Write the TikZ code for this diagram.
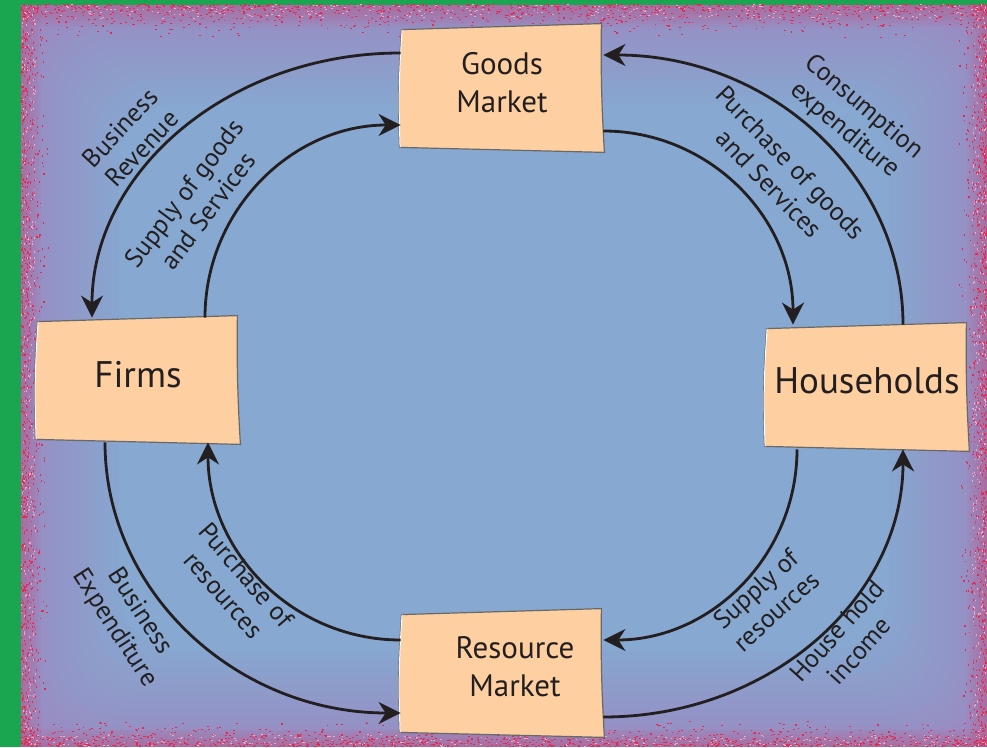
\documentclass[tikz,border=0pt]{standalone}
\usepackage{fontspec}
\setmainfont{PT Sans}
\usetikzlibrary{arrows.meta,backgrounds}

\definecolor{bggreen}{RGB}{26,166,80}
\definecolor{edgepurple}{RGB}{152,140,194}
\definecolor{midblue}{RGB}{135,168,208}
\definecolor{speckred}{RGB}{226,44,86}
\definecolor{speckpale}{RGB}{236,170,200}
\definecolor{cardpeach}{RGB}{253,207,161}
\definecolor{cardline}{RGB}{105,105,105}
\definecolor{inkdark}{RGB}{35,31,32}

% paper card behind a market / sector node
\newcommand\cardback[1]{%
	\filldraw[cardface] ([shift={(1,-4)}]#1.north west) -- ([shift={(-2,2)}]#1.north east)
		to[bend right=2] ([shift={(1,-2)}]#1.south east) -- ([shift={(-1,3)}]#1.south west)
		to[bend left=3] ([shift={(1,-4)}]#1.north west) -- cycle;
	\draw[white, line width=1pt] ([shift={(-0.5,3)}]#1.south west)
		to[bend left=3] ([shift={(1.5,-4)}]#1.north west);
}

\begin{document}
\begin{tikzpicture}[
	>={Stealth[length=22pt,width=22pt,inset=7pt]},
	line width=2.8pt,
	x=1pt,y=1pt,
	font=\fontsize{26}{30}\selectfont,
	card/.style={minimum width=200, minimum height=122, inner sep=0pt, text depth=12pt, align=center, text=inkdark},
	cardface/.style={fill=cardpeach, draw=cardline, line width=1.2pt},
	flow/.style={->, draw=inkdark},
	lbl/.style={align=center, text=inkdark, inner sep=0pt}
	]
	\useasboundingbox (0,0) rectangle (987,747);

% begin background
\begin{scope}[on background layer]
\fill[bggreen] (0,0) rectangle (987,747);
\fill[edgepurple] (21,0) rectangle (987,742);
\foreach \k in {0,...,11}{
	\pgfmathtruncatemacro\p{(\k+1)*100/12}
	\fill[midblue!\p!edgepurple, rounded corners=60] (31+\k*8, 8+\k*8) rectangle (977-\k*8, 732-\k*8);
}
% red haze along the frame
\foreach \j in {1,...,7}{
	\fill[speckred, opacity=0.045] (21,742) rectangle (987,742-\j*3.2);
	\fill[speckred, opacity=0.045] (21,0) rectangle (987,\j*2.6);
	\fill[speckred, opacity=0.045] (21,0) rectangle (21+\j*2.8,742);
	\fill[speckred, opacity=0.045] (987,0) rectangle (987-\j*2.8,742);
}
% red speckles along the frame
\pgfmathsetseed{42}
\foreach \i in {1,...,1100}{
	\pgfmathsetmacro\sx{21+rnd*966}
	\pgfmathsetmacro\sd{rnd*rnd*34}
	\fill[speckred] (\sx,742-\sd) rectangle ++(1.8,1.1);
	\pgfmathsetmacro\sx{21+rnd*966}
	\pgfmathsetmacro\sd{rnd*rnd*26}
	\fill[speckred] (\sx,\sd) rectangle ++(1.8,1.1);
}
\foreach \i in {1,...,850}{
	\pgfmathsetmacro\sy{rnd*742}
	\pgfmathsetmacro\sd{rnd*rnd*28}
	\fill[speckred] (21+\sd,\sy) rectangle ++(1.1,1.8);
	\pgfmathsetmacro\sy{rnd*742}
	\pgfmathsetmacro\sd{rnd*rnd*28}
	\fill[speckred] (987-\sd,\sy) rectangle ++(-1.1,1.8);
}
\foreach \i in {1,...,300}{
	\pgfmathsetmacro\sx{21+rnd*966}
	\pgfmathsetmacro\sd{rnd*14}
	\fill[speckpale] (\sx,742-\sd) rectangle ++(1.6,1);
	\pgfmathsetmacro\sy{rnd*742}
	\pgfmathsetmacro\sd{rnd*14}
	\fill[speckpale] (21+\sd,\sy) rectangle ++(1,1.6);
	\pgfmathsetmacro\sy{rnd*742}
	\pgfmathsetmacro\sd{rnd*14}
	\fill[speckpale] (987-\sd,\sy) rectangle ++(-1,1.6);
	\pgfmathsetmacro\sx{21+rnd*966}
	\pgfmathsetmacro\sd{rnd*12}
	\fill[speckpale] (\sx,\sd) rectangle ++(1.6,1);
}
\end{scope}
% end background

			\node[card, font=\fontsize{31}{38}\selectfont] (goods_mkt)    at (502,659) {Goods\\Market};
			\node[card, font=\fontsize{37}{40}\selectfont] (firms)        at (138,367) {Firms};
			\node[card, font=\fontsize{37}{40}\selectfont] (households)   at (867,360) {Households};
			\node[card, font=\fontsize{31}{38}\selectfont] (resource_mkt) at (502,74) {\hspace*{26pt}Resource\\\hspace*{26pt}Market};

\begin{scope}[on background layer]
\cardback{goods_mkt}
\cardback{firms}
\cardback{households}
\cardback{resource_mkt}
\end{scope}

			\node[lbl, rotate=47]  (lbl_revenue)        at (131,609) {Business\\Revenue};
			\node[lbl, rotate=53]  (lbl_supply_goods)   at (196,545) {Supply of goods\\and Services};
			\node[lbl, rotate=-40] (lbl_consumption)    at (854,628) {Consumption\\expenditure};
			\node[lbl, rotate=-46] (lbl_purchase_goods) at (780,574) {Purchase of goods\\and Services};
			\node[lbl, rotate=42]  (lbl_supply_res)     at (766,147) {Supply of\\resources};
			\node[lbl, rotate=48]  (lbl_income)         at (848,106) {House hold\\income};
			\node[lbl, rotate=-49] (lbl_purchase_res)   at (235,162) {Purchase of\\resources};
			\node[lbl, rotate=-57] (lbl_expenditure)    at (127,127) {Business\\Expenditure};

			\draw[flow] ([yshift=35]goods_mkt.west) .. controls +(-172,0) and +(0,146) .. ([xshift=-46]firms.north);
			\draw[flow] ([xshift=67]firms.north) .. controls +(0,107) and +(-109,0) .. ([yshift=-37]goods_mkt.west);
			\draw[flow] ([xshift=36]households.north) .. controls +(0,150) and +(166,0) .. ([yshift=33]goods_mkt.east);
			\draw[flow] ([yshift=-43]goods_mkt.east) .. controls +(105,0) and +(0,108) .. ([xshift=-74]households.north);
			\draw[flow] ([xshift=-70]households.south) .. controls +(0,-106) and +(108,0) .. ([yshift=33]resource_mkt.east);
			\draw[flow] ([yshift=-44]resource_mkt.east) .. controls +(166,0) and +(0,-149) .. ([xshift=36]households.south);
			\draw[flow] ([yshift=33]resource_mkt.west) .. controls +(-107,0) and +(0,-110) .. ([xshift=70]firms.south);
			\draw[flow] ([xshift=-33]firms.south) .. controls +(0,-150) and +(-164,0) .. ([yshift=-40]resource_mkt.west);

\end{tikzpicture}
\end{document}
